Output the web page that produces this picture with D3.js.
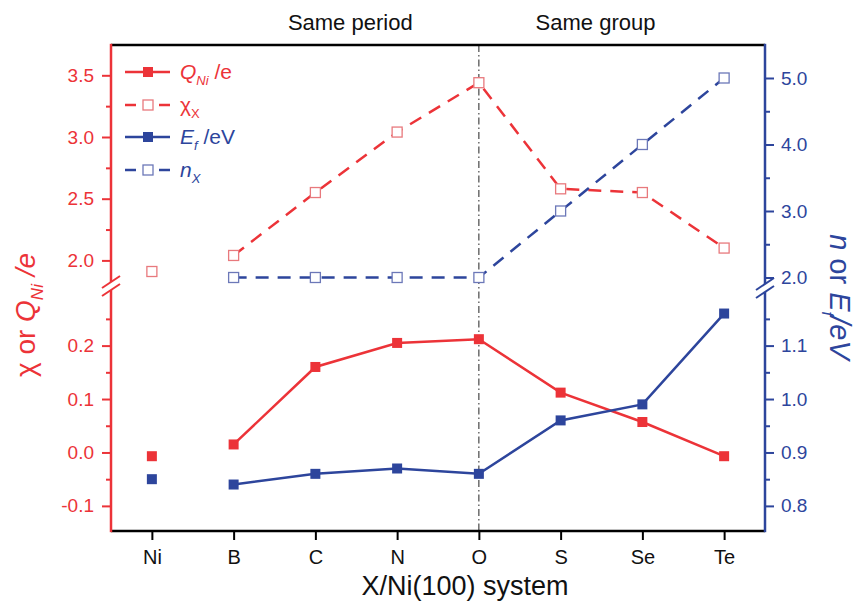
<!DOCTYPE html>
<html>
<head>
<meta charset="utf-8">
<script src="https://cdn.jsdelivr.net/npm/d3@7"></script>
<style>
  html, body { margin: 0; padding: 0; background: #fff; }
  svg { display: block; font-family: "Liberation Sans", Arial, sans-serif; }
</style>
</head>
<body>
<svg id="chart" width="855" height="602"></svg>
<script>
// ---- data ----
const categories = ["Ni", "B", "C", "N", "O", "S", "Se", "Te"];
const chiX = [1.91, 2.04, 2.55, 3.04, 3.44, 2.58, 2.55, 2.10];      // left upper
const nX   = [null, 2, 2, 2, 2, 3, 4, 5];                            // right upper
const qNi  = [-0.007, 0.015, 0.16, 0.205, 0.212, 0.112, 0.057, -0.007]; // left lower
const eF   = [0.85, 0.84, 0.86, 0.87, 0.86, 0.96, 0.99, 1.16];       // right lower

const leftUpperTicks = [2.0, 2.5, 3.0, 3.5];
const leftUpperMinor = [2.25, 2.75, 3.25];
const leftLowerTicks = [-0.1, 0.0, 0.1, 0.2];
const leftLowerMinor = [-0.05, 0.05, 0.15, 0.25];
const rightUpperTicks = [2.0, 3.0, 4.0, 5.0];
const rightUpperMinor = [2.5, 3.5, 4.5];
const rightLowerTicks = [0.8, 0.9, 1.0, 1.1];
const rightLowerMinor = [0.85, 0.95, 1.05, 1.15];
const topLabels = [{text: "Same period", from: "C", to: "N"}, {text: "Same group", from: "S", to: "Se"}];

// ---- layout ----
const RED = "#ec3338", BLUE = "#2d459c";
const RED_H = "#e8797d", BLUE_H = "#6c78b8";
const L = 111, R = 765, T = 45, B = 531;

const svg = d3.select("#chart");

const x = d3.scalePoint().domain(categories).range([L, R]).padding(0.5);
const yLU = d3.scaleLinear().domain([2.0, 3.5]).range([260.4, 75.3]);
const yLL = d3.scaleLinear().domain([-0.1, 0.2]).range([505.9, 345.6]);
const yRU = d3.scaleLinear().domain([2.0, 5.0]).range([277.5, 78]);
const yRL = d3.scaleLinear().domain([0.8, 1.1]).range([505.9, 345.6]);

const fmt = d => d.toFixed(1);

// vertical dash-dot line at O
svg.append("line")
  .attr("x1", x("O")).attr("x2", x("O"))
  .attr("y1", T).attr("y2", B)
  .attr("stroke", "#222").attr("stroke-width", 1)
  .attr("stroke-dasharray", "7,3,1.5,3");

// frame top & bottom
svg.append("line").attr("x1", L).attr("x2", R).attr("y1", T).attr("y2", T)
  .attr("stroke", "#000").attr("stroke-width", 2.5);
svg.append("line").attr("x1", L).attr("x2", R).attr("y1", B).attr("y2", B)
  .attr("stroke", "#000").attr("stroke-width", 2.5);

// x axis
const xAxis = svg.append("g").attr("transform", `translate(0,${B})`)
  .call(d3.axisBottom(x).tickSize(9).tickPadding(10));
xAxis.select(".domain").remove();
xAxis.selectAll("line").attr("stroke", "#000").attr("stroke-width", 2);
xAxis.selectAll("text").attr("font-size", 20).attr("fill", "#111")
  .attr("font-family", "Liberation Sans, Arial, sans-serif");

// helper: y axis
function yAxis(scale, ticks, minor, side, color) {
  const gen = side === "left" ? d3.axisLeft : d3.axisRight;
  const g = svg.append("g").attr("transform", `translate(${side === "left" ? L : R},0)`);
  const gm = g.append("g").call(gen(scale).tickValues(ticks).tickFormat(fmt).tickSize(9).tickPadding(side === "left" ? 8 : 7));
  const gn = g.append("g").call(gen(scale).tickValues(minor).tickFormat("").tickSize(5));
  [gm, gn].forEach(a => {
    a.select(".domain").remove();
    a.selectAll("line").attr("stroke", color).attr("stroke-width", 2);
  });
  gm.selectAll("text").attr("font-size", 19).attr("fill", color)
    .attr("font-family", "Liberation Sans, Arial, sans-serif");
}
yAxis(yLU, leftUpperTicks, leftUpperMinor, "left", RED);
yAxis(yLL, leftLowerTicks, leftLowerMinor, "left", RED);
yAxis(yRU, rightUpperTicks, rightUpperMinor, "right", BLUE);
yAxis(yRL, rightLowerTicks, rightLowerMinor, "right", BLUE);

// axis lines with breaks
function axisLine(xp, brk, color) {
  svg.append("line").attr("x1", xp).attr("x2", xp).attr("y1", T - 1.2).attr("y2", brk - 4)
    .attr("stroke", color).attr("stroke-width", 2.5);
  svg.append("line").attr("x1", xp).attr("x2", xp).attr("y1", brk + 4).attr("y2", B + 1.2)
    .attr("stroke", color).attr("stroke-width", 2.5);
  [brk - 4, brk + 4].forEach(c => {
    svg.append("line").attr("x1", xp - 9).attr("y1", c + 6).attr("x2", xp + 9).attr("y2", c - 6)
      .attr("stroke", color).attr("stroke-width", 2);
  });
}
axisLine(L, 286, RED);
axisLine(R, 288, BLUE);

// series lines (B..Te connected), Ni isolated
const idx = d3.range(1, categories.length);
function drawLine(vals, scale, color, dash) {
  const line = d3.line().x(i => x(categories[i])).y(i => scale(vals[i]));
  svg.append("path").datum(idx).attr("d", line)
    .attr("fill", "none").attr("stroke", color).attr("stroke-width", 2.5)
    .attr("stroke-dasharray", dash || null);
}
drawLine(chiX, yLU, RED, "13,9");
drawLine(nX, yRU, BLUE, "13,9");
drawLine(qNi, yLL, RED);
drawLine(eF, yRL, BLUE);

const MS = 10;
function drawMarkers(vals, scale, fill, stroke) {
  const data = vals.map((v, i) => ({v, c: categories[i]})).filter(d => d.v !== null);
  svg.append("g").selectAll("rect").data(data).join("rect")
    .attr("x", d => x(d.c) - MS / 2).attr("y", d => scale(d.v) - MS / 2)
    .attr("width", MS).attr("height", MS)
    .attr("fill", fill).attr("stroke", stroke).attr("stroke-width", fill === "#fff" ? 1.3 : 0);
}
drawMarkers(chiX, yLU, "#fff", RED_H);
drawMarkers(nX, yRU, "#fff", BLUE_H);
drawMarkers(qNi, yLL, RED, "none");
drawMarkers(eF, yRL, BLUE, "none");

// legend
const legend = [
  {color: RED, hollow: false, dashed: false, y: 72, parts: [["Q", "i", 0], ["Ni", "i", 1], [" /e", "n", 0]]},
  {color: RED, hollow: true, dashed: true, y: 105, parts: [["χ", "n", 0], ["X", "n", 1]]},
  {color: BLUE, hollow: false, dashed: false, y: 137, parts: [["E", "i", 0], ["f", "i", 1], [" /eV", "n", 0]]},
  {color: BLUE, hollow: true, dashed: true, y: 170, parts: [["n", "i", 0], ["X", "i", 1]]}
];
legend.forEach(d => {
  const g = svg.append("g");
  if (d.dashed) {
    g.append("line").attr("x1", 125).attr("x2", 136).attr("y1", d.y).attr("y2", d.y)
      .attr("stroke", d.color).attr("stroke-width", 2.5);
    g.append("line").attr("x1", 159).attr("x2", 170).attr("y1", d.y).attr("y2", d.y)
      .attr("stroke", d.color).attr("stroke-width", 2.5);
  } else {
    g.append("line").attr("x1", 125).attr("x2", 170).attr("y1", d.y).attr("y2", d.y)
      .attr("stroke", d.color).attr("stroke-width", 2.5);
  }
  g.append("rect").attr("x", 148 - MS / 2).attr("y", d.y - MS / 2).attr("width", MS).attr("height", MS)
    .attr("fill", d.hollow ? "#fff" : d.color)
    .attr("stroke", d.hollow ? (d.color === RED ? RED_H : BLUE_H) : "none")
    .attr("stroke-width", 1.3);
  const t = g.append("text").attr("x", 180).attr("y", d.y + 7).attr("font-size", 21).attr("fill", d.color);
  let sub = false;
  d.parts.forEach(p => {
    const ts = t.append("tspan").text(p[0]).attr("font-style", p[1] === "i" ? "italic" : "normal");
    if (p[2] === 1) { ts.attr("font-size", 13).attr("dy", 6); sub = true; }
    else if (sub) { ts.attr("dy", -6); sub = false; }
  });
});

// top labels
svg.append("g").selectAll("text").data(topLabels).join("text")
  .attr("x", d => (x(d.from) + x(d.to)) / 2 - 6)
  .attr("y", 30).attr("text-anchor", "middle").attr("font-size", 22).attr("fill", "#111")
  .text(d => d.text);

// x title
svg.append("text").attr("x", 465).attr("y", 595).attr("text-anchor", "middle")
  .attr("font-size", 27).attr("fill", "#111").text("X/Ni(100) system");

// left title
const lt = svg.append("text").attr("transform", "translate(35,315) rotate(-90)")
  .attr("text-anchor", "middle").attr("font-size", 28).attr("fill", RED);
lt.append("tspan").text("χ or ");
lt.append("tspan").text("Q").attr("font-style", "italic");
lt.append("tspan").text("Ni").attr("font-style", "italic").attr("font-size", 17).attr("dy", 8);
lt.append("tspan").text(" /e").attr("font-style", "italic").attr("dy", -8);

// right title
const rt = svg.append("text").attr("transform", "translate(830,297) rotate(90)")
  .attr("text-anchor", "middle").attr("font-size", 29).attr("fill", BLUE);
rt.append("tspan").text("n").attr("font-style", "italic");
rt.append("tspan").text(" or ");
rt.append("tspan").text("E").attr("font-style", "italic");
rt.append("tspan").text("f").attr("font-style", "italic").attr("font-size", 17).attr("dy", 8);
rt.append("tspan").text("/eV").attr("font-style", "italic").attr("dy", -8);
</script>
</body>
</html>
